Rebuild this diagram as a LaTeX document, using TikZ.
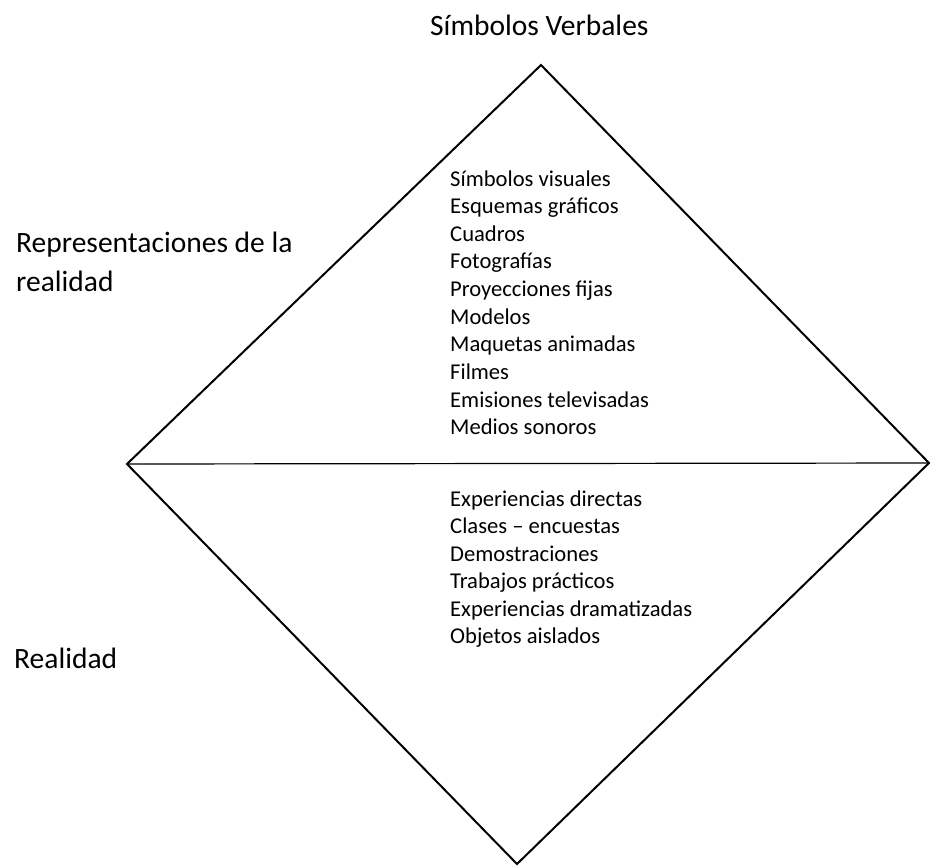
\documentclass[tikz,border=0pt]{standalone}
\usepackage{fontspec}
\setmainfont{Carlito}
\usetikzlibrary{positioning}

\begin{document}
\begin{tikzpicture}[x=1pt,y=-1pt]
	\tikzstyle{titulo}=[inner sep=0pt,anchor=base west,font=\fontsize{29.5}{39}\selectfont]
	\tikzstyle{lista}=[inner sep=0pt,anchor=base west,font=\fontsize{22.6}{27.6}\selectfont]
	\tikzstyle{borde}=[line width=2pt,line join=miter]
	\useasboundingbox (0,0) rectangle (931,865);
	% vertices del rombo
	\coordinate (arriba) at (541,65);
	\coordinate (izq) at (127,464);
	\coordinate (der) at (929,463);
	\coordinate (abajo) at (517,864);
	\draw[borde] (izq) -- (arriba) -- (der) -- (abajo) -- cycle;
	\draw[line width=1.2pt] (izq) -- (der);
	% etiquetas
	\node[titulo] (verbales) at (430,35) {Símbolos Verbales};
	\node[titulo] (representaciones) at (16,252) {Representaciones de la};
	\node[titulo] (representaciones2) at (16,291) {realidad};
	\node[titulo] (realidad) at (14,668) {Realidad};
	% contenidos
	\foreach \txt [count=\k from 0] in {Símbolos visuales,Esquemas gráficos,Cuadros,Fotografías,Proyecciones fijas,Modelos,Maquetas animadas,Filmes,Emisiones televisadas,Medios sonoros}
		\node[lista] (simbolo-\k) at (450,186+27.65*\k) {\txt};
	\foreach \txt [count=\k from 0] in {Experiencias directas,Clases – encuestas,Demostraciones,Trabajos prácticos,Experiencias dramatizadas,Objetos aislados}
		\node[lista] (experiencia-\k) at (450,506+27.5*\k) {\txt};
\end{tikzpicture}
\end{document}
